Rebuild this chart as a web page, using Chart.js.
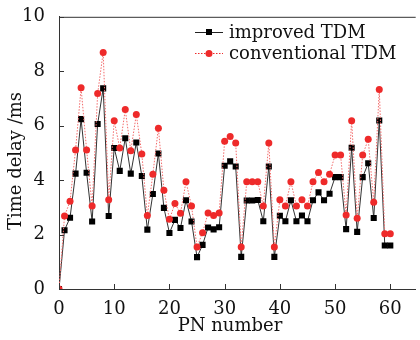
<!DOCTYPE html>
<html lang="en">
<head>
    <meta charset="UTF-8">
    <title>Time delay vs PN number</title>
    <script src="https://cdn.jsdelivr.net/npm/chart.js@4.4.1/dist/chart.umd.min.js"></script>
    <style>
        html, body { margin: 0; padding: 0; background: #fff; }
        #wrap { width: 420px; height: 340px; }
    </style>
</head>
<body>
    <div id="wrap"><canvas id="delay-chart" width="420" height="340"></canvas></div>

    <script>
        // PN number (x axis)
        const pnNumbers = [0, 1, 2, 3, 4, 5, 6, 7, 8, 9, 10, 11, 12, 13, 14, 15, 16, 17, 18, 19, 20,
            21, 22, 23, 24, 25, 26, 27, 28, 29, 30, 31, 32, 33, 34, 35, 36, 37, 38, 39, 40,
            41, 42, 43, 44, 45, 46, 47, 48, 49, 50, 51, 52, 53, 54, 55, 56, 57, 58, 59, 60];

        // time delay in ms
        const improvedTDM = [0, 2.16, 2.62, 4.24, 6.24, 4.27, 2.48, 6.06, 7.37, 2.68, 5.18,
            4.34, 5.54, 4.24, 5.38, 4.15, 2.18, 3.49, 4.98, 2.98, 2.06,
            2.54, 2.24, 3.26, 2.48, 1.17, 1.62, 2.26, 2.19, 2.27, 4.53,
            4.69, 4.50, 1.18, 3.25, 3.25, 3.27, 2.49, 4.50, 1.18, 2.69,
            2.49, 3.26, 2.49, 2.70, 2.49, 3.26, 3.55, 3.26, 3.50, 4.11,
            4.11, 2.20, 5.19, 2.10, 4.11, 4.62, 2.61, 6.19, 1.60, 1.60];

        const conventionalTDM = [0, 2.68, 3.22, 5.11, 7.39, 5.11, 3.05, 7.18, 8.69, 3.28, 6.18,
            5.18, 6.59, 5.08, 6.41, 4.96, 2.70, 4.22, 5.91, 3.63, 2.56,
            3.14, 2.78, 3.94, 3.05, 1.54, 2.07, 2.79, 2.70, 2.79, 5.43,
            5.60, 5.36, 1.54, 3.94, 3.94, 3.94, 3.05, 5.36, 1.54, 3.28,
            3.05, 3.94, 3.05, 3.28, 3.05, 3.94, 4.28, 3.94, 4.22, 4.92,
            4.92, 2.72, 6.18, 2.60, 4.92, 5.50, 3.19, 7.33, 2.03, 2.03];

        const xTicks = [0, 10, 20, 30, 40, 50, 60];
        const yTicks = [0, 2, 4, 6, 8, 10];
        const seriesNames = ['improved TDM', 'conventional TDM'];

        const FONT = '"DejaVu Serif", "Liberation Serif", serif';
        const RED = '#ee2a2a';
        const DARK = '#222';

        // inward ticks, top border, axis titles and the boxed-in legend
        const frame = {
            id: 'frame',
            afterDraw(chart) {
                const ctx = chart.ctx;
                const area = chart.chartArea;
                const xs = chart.scales.x, ys = chart.scales.y;
                ctx.save();
                ctx.strokeStyle = '#333';
                ctx.lineWidth = 1;
                ctx.beginPath();
                ctx.moveTo(area.left, area.top + 0.5);
                ctx.lineTo(area.right, area.top + 0.5);
                xTicks.forEach(v => {
                    const px = Math.round(xs.getPixelForValue(v)) + 0.5;
                    ctx.moveTo(px, area.bottom);
                    ctx.lineTo(px, area.bottom - 5);
                });
                yTicks.forEach(v => {
                    const py = Math.round(ys.getPixelForValue(v)) + 0.5;
                    ctx.moveTo(area.left, py);
                    ctx.lineTo(area.left + 5, py);
                });
                ctx.stroke();

                // axis titles
                ctx.fillStyle = '#111';
                ctx.font = '18px ' + FONT;
                ctx.textAlign = 'center';
                ctx.textBaseline = 'alphabetic';
                ctx.fillText('PN number', 230, 331);
                ctx.save();
                ctx.translate(21, 161);
                ctx.rotate(-Math.PI / 2);
                ctx.fillText('Time delay /ms', 0, 0);
                ctx.restore();

                // legend
                const rows = [
                    { y: 32, color: DARK, dash: [], style: 'rect' },
                    { y: 53, color: RED, dash: [1.5, 1.5], style: 'circle' }
                ];
                ctx.textAlign = 'left';
                ctx.textBaseline = 'middle';
                rows.forEach((r, i) => {
                    ctx.beginPath();
                    ctx.setLineDash(r.dash);
                    ctx.strokeStyle = r.color;
                    ctx.moveTo(195, r.y + 0.5);
                    ctx.lineTo(223, r.y + 0.5);
                    ctx.stroke();
                    ctx.setLineDash([]);
                    ctx.fillStyle = i === 0 ? '#000' : RED;
                    if (r.style === 'rect') {
                        ctx.fillRect(206, r.y - 3, 6, 6);
                    } else {
                        ctx.beginPath();
                        ctx.arc(209, r.y + 0.5, 3.5, 0, Math.PI * 2);
                        ctx.fill();
                    }
                    ctx.fillStyle = '#111';
                    ctx.fillText(seriesNames[i], 229, r.y + 1);
                });
                ctx.restore();
            }
        };

        const canvas = document.getElementById('delay-chart');
        new Chart(canvas, {
            type: 'line',
            data: {
                datasets: [
                    {
                        label: seriesNames[1],
                        data: pnNumbers.map((x, i) => ({ x: x, y: conventionalTDM[i] })),
                        borderColor: '#f26b6b',
                        borderWidth: 1,
                        borderDash: [1.5, 1.5],
                        pointStyle: 'circle',
                        pointRadius: 3.5,
                        pointBackgroundColor: RED,
                        pointBorderWidth: 0,
                        tension: 0,
                        order: 0
                    },
                    {
                        label: seriesNames[0],
                        data: pnNumbers.map((x, i) => ({ x: x, y: improvedTDM[i] })),
                        borderColor: '#333',
                        borderWidth: 1,
                        pointStyle: 'rect',
                        pointRadius: 4.3,
                        pointBackgroundColor: '#000',
                        pointBorderWidth: 0,
                        tension: 0,
                        order: 1
                    }
                ]
            },
            options: {
                responsive: false,
                animation: false,
                layout: { padding: { top: 12, right: 0, left: 0, bottom: 0 } },
                plugins: {
                    legend: { display: false },
                    tooltip: { enabled: false }
                },
                scales: {
                    x: {
                        type: 'linear',
                        min: 0,
                        max: 64.6,
                        grid: { display: false },
                        border: { display: true, color: '#333', width: 1 },
                        afterBuildTicks: s => { s.ticks = xTicks.map(v => ({ value: v })); },
                        afterFit: s => { s.height = 51; },
                        ticks: {
                            color: '#111',
                            padding: 2,
                            maxRotation: 0,
                            font: { family: FONT, size: 18 }
                        }
                    },
                    y: {
                        min: 0,
                        max: 10,
                        grid: { display: false },
                        border: { display: true, color: '#333', width: 1 },
                        afterBuildTicks: s => { s.ticks = yTicks.map(v => ({ value: v })); },
                        afterFit: s => { s.width = 59; },
                        ticks: {
                            color: '#111',
                            padding: 6,
                            font: { family: FONT, size: 18 }
                        }
                    }
                }
            },
            plugins: [frame]
        });
    </script>
</body>
</html>
